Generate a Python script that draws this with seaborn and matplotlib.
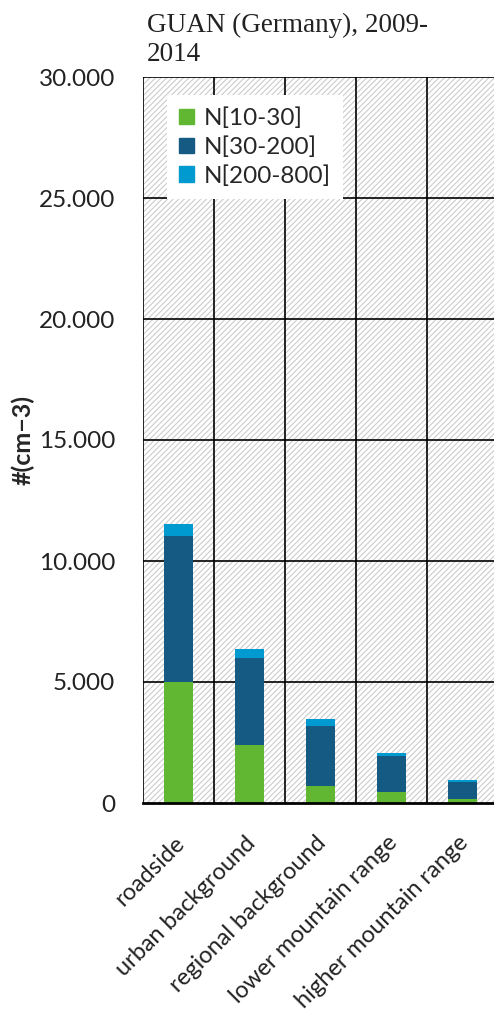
import matplotlib
matplotlib.use("Agg")
import matplotlib.pyplot as plt
import matplotlib.patches as mpatches
import matplotlib.transforms as mtransforms
import numpy as np
import pandas as pd
import seaborn as sns

# data
sites = ["roadside", "urban background", "regional background",
         "lower mountain range", "higher mountain range"]
n_10_30 = [5000, 2400, 720, 440, 180]
n_30_200 = [6050, 3590, 2450, 1490, 700]
n_200_800 = [480, 370, 310, 140, 60]
y_ticks = [0, 5000, 10000, 15000, 20000, 25000, 30000]
y_ticklabels = ["0", "5.000", "10.000", "15.000", "20.000", "25.000", "30.000"]
series = ["N[10-30]", "N[30-200]", "N[200-800]"]
colors = ["#62b732", "#155a82", "#0099d0"]

df = pd.DataFrame({"site": sites, "a": n_10_30, "b": n_30_200, "c": n_200_800})
df["ab"] = df["a"] + df["b"]
df["abc"] = df["ab"] + df["c"]

sns.set_style("white")
plt.rcParams["font.family"] = ["Lato", "DejaVu Sans"]
plt.rcParams["hatch.linewidth"] = 0.8
plt.rcParams["hatch.color"] = "#cccccc"

fig = plt.figure(figsize=(4.94, 10.18), dpi=100)
ax = fig.add_axes([143 / 494, 215 / 1018, 355 / 494, 726 / 1018])

# hatched plot area
ax.add_patch(mpatches.Rectangle((0, 0), 1, 1, transform=ax.transAxes,
                                facecolor="white", edgecolor="#cccccc",
                                hatch="//////", lw=0, zorder=0))

# stacked bars: draw totals first, then overlay lower parts
sns.barplot(data=df, x="site", y="abc", color=colors[2], width=0.4,
            saturation=1, linewidth=0, ax=ax, zorder=3)
sns.barplot(data=df, x="site", y="ab", color=colors[1], width=0.4,
            saturation=1, linewidth=0, ax=ax, zorder=4)
sns.barplot(data=df, x="site", y="a", color=colors[0], width=0.4,
            saturation=1, linewidth=0, ax=ax, zorder=5)

ax.set_xlim(-0.5, len(sites) - 0.5)
ax.set_ylim(0, 30000)

# grid lines
for y in y_ticks[1:]:
    ax.axhline(y, color="black", lw=1.2, zorder=2)
for x in np.arange(len(sites)) - 0.5:
    ax.axvline(x, color="black", lw=1.2, zorder=2)

for s in ["top", "right"]:
    ax.spines[s].set_visible(False)
ax.spines["left"].set_visible(False)
ax.spines["bottom"].set_linewidth(2)
ax.spines["bottom"].set_color("black")
ax.spines["bottom"].set_zorder(6)

ax.set_yticks(y_ticks)
ax.set_yticklabels(y_ticklabels, fontsize=17.5, color="#222222")
ax.tick_params(axis="y", length=0, pad=20)

ax.set_xticks(np.arange(len(sites)))
ax.set_xticklabels(sites, rotation=45, ha="right", rotation_mode="anchor",
                   fontsize=17, color="#222222")
ax.tick_params(axis="x", length=0, pad=21)
shift = mtransforms.ScaledTranslation(-5 / 100, 0, fig.dpi_scale_trans)
for lab in ax.get_xticklabels():
    lab.set_transform(lab.get_transform() + shift)
ax.set_xticks(np.arange(len(sites) + 1) - 0.5, minor=True)
ax.tick_params(axis="x", which="minor", length=7, width=2, color="black",
               direction="out")

ax.set_xlabel("")
ax.set_ylabel("#(cm\u22123)", fontsize=18, fontweight="bold", labelpad=3)

handles = [mpatches.Patch(color=c, label=l) for c, l in zip(colors, series)]
leg = ax.legend(handles=handles, loc="upper left", bbox_to_anchor=(0.068, 0.975),
                fontsize=17.5, frameon=True, fancybox=False, framealpha=1,
                edgecolor="none", facecolor="white", handlelength=0.6,
                handleheight=0.6, handletextpad=0.4, labelspacing=0.3,
                borderpad=0.5, borderaxespad=0)
leg.set_zorder(10)

fig.text(147 / 494, 1 - 13 / 1018, "GUAN (Germany), 2009-\n2014",
         family=["Liberation Serif"], fontsize=19.5, va="top", ha="left",
         color="#222222", linespacing=1.2)

fig.savefig("out.png", dpi=100)
